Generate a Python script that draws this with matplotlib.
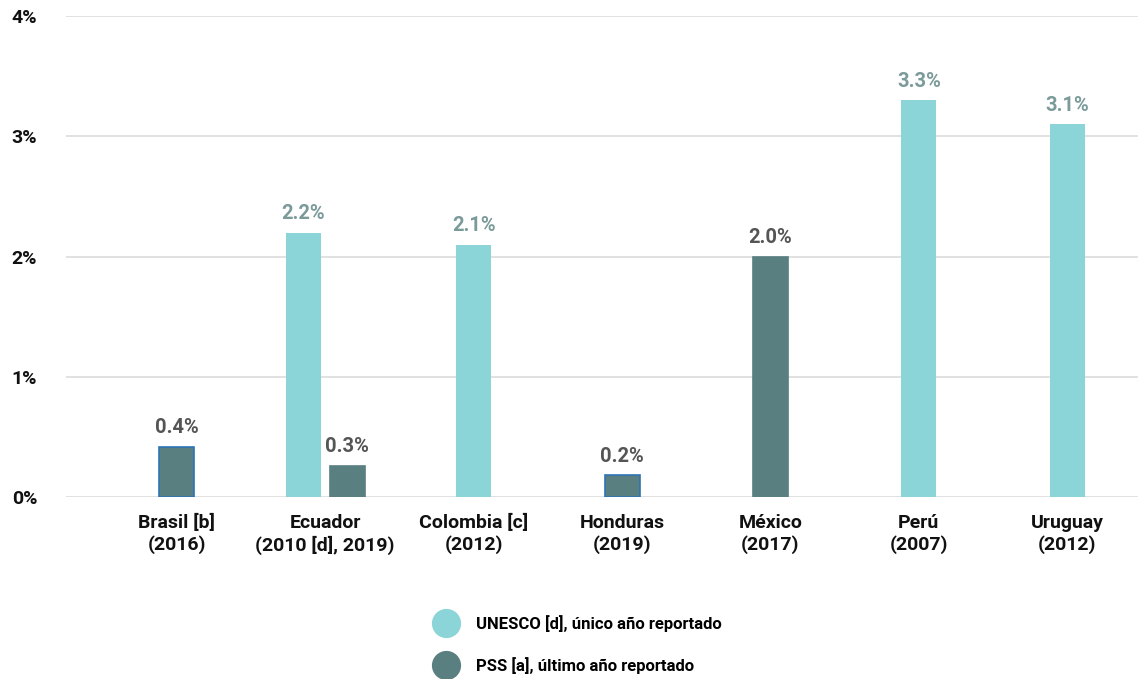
import matplotlib.pyplot as plt
from matplotlib.lines import Line2D

plt.rcParams['font.family'] = ['Roboto', 'DejaVu Sans']
plt.rcParams['font.weight'] = 'bold'

categories = ['Brasil [b]\n(2016)', 'Ecuador\n(2010 [d], 2019)', 'Colombia [c]\n(2012)',
              'Honduras\n(2019)', 'México\n(2017)', 'Perú\n(2007)', 'Uruguay\n(2012)']
unesco = [None, 2.2, 2.1, None, None, 3.3, 3.1]
pss = [0.42, 0.26, None, 0.18, 2.0, None, None]
outlined = [True, False, False, True, False, False, False]  # bars drawn with a blue border
y_ticks = [0, 1, 2, 3, 4]

c_unesco = '#8BD4D7'
c_pss = '#5A7F80'
c_edge = '#2E74B5'

fig = plt.figure(figsize=(11.38, 6.79), dpi=100)
ax = fig.add_axes([0.058, 0.268, 0.942, 0.708])

width = 0.236
off = 0.148
for i in range(len(categories)):
    u, p = unesco[i], pss[i]
    if u is not None and p is not None:
        xu, xp = i - off, i + off
    else:
        xu = xp = i
    if u is not None:
        ax.bar(xu, u, width, color=c_unesco, zorder=3)
        ax.text(xu, u + 0.08, f'{u:.1f}%', ha='center', va='bottom',
                fontsize=14.5, fontweight='bold', color='#7B9A9A')
    if p is not None:
        ec = c_edge if outlined[i] else c_pss
        ax.bar(xp, p, width, color=c_pss, edgecolor=ec, linewidth=1.2, zorder=3)
        ax.text(xp, p + 0.08, f'{p:.1f}%', ha='center', va='bottom',
                fontsize=14.5, fontweight='bold', color='#555555')

ax.set_xlim(-0.747, 6.477)
ax.set_ylim(0, 4)
ax.set_yticks(y_ticks)
ax.set_yticklabels([f'{t}%' for t in y_ticks], fontsize=14, fontweight='bold', color='#111111')
ax.set_xticks(range(len(categories)))
ax.set_xticklabels(categories, fontsize=14, fontweight='bold', color='#111111', linespacing=1.25)
ax.tick_params(axis='both', length=0)
ax.tick_params(axis='x', pad=12)
for lbl in ax.get_yticklabels():
    lbl.set_horizontalalignment('left')
ax.yaxis.set_tick_params(pad=39)
ax.grid(axis='y', color='#dcdcdc', linewidth=1.2, zorder=0)
for s in ax.spines.values():
    s.set_visible(False)

handles = [
    Line2D([], [], marker='o', linestyle='', markersize=20, color=c_unesco,
           label='UNESCO [d], único año reportado'),
    Line2D([], [], marker='o', linestyle='', markersize=20, color=c_pss,
           label='PSS [a], último año reportado'),
]
fig.legend(handles=handles, loc='upper left', bbox_to_anchor=(0.377, 0.0945),
           frameon=False, prop={'size': 12, 'weight': 'bold'}, labelspacing=1.5,
           handletextpad=0.8, borderaxespad=0, borderpad=0)

fig.savefig('out.png', dpi=100)
